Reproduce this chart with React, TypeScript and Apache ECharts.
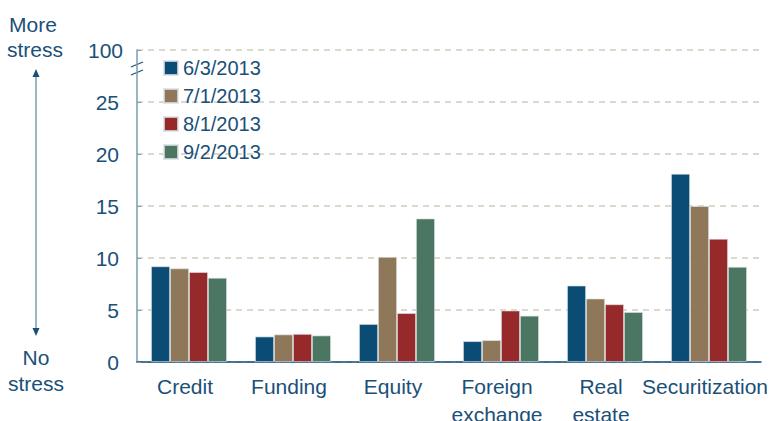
import React, { useEffect, useRef } from "react";
import * as echarts from "echarts";

const categories = ["Credit", "Funding", "Equity", "Foreign\nexchange", "Real\nestate", "Securitization"];
const seriesNames = ["6/3/2013", "7/1/2013", "8/1/2013", "9/2/2013"];
const jun = [9.2, 2.45, 3.65, 2.0, 7.35, 18.1];
const jul = [9.0, 2.65, 10.1, 2.1, 6.1, 15.0];
const aug = [8.65, 2.7, 4.7, 4.95, 5.55, 11.85];
const sep = [8.1, 2.55, 13.8, 4.45, 4.8, 9.15];
const yTicks = [0, 5, 10, 15, 20, 25, 30];
const topLabel = "100";

const colors = ["#0B4C75", "#8F785A", "#962A2B", "#4B7762"];
const textColor = "#1A5078";
const font = "Liberation Sans, Arial, sans-serif";

export default function App() {
  const ref = useRef<HTMLDivElement>(null);
  useEffect(() => {
    const chart = echarts.init(ref.current!, null, { renderer: "svg" });
    const data = [jun, jul, aug, sep];
    chart.setOption({
      animation: false,
      textStyle: { fontFamily: font },
      grid: { left: 137, right: 10, top: 50, bottom: 59, containLabel: false, outerBoundsMode: "none" },
      legend: {
        orient: "vertical",
        left: 158,
        top: 53,
        itemWidth: 14,
        itemHeight: 14,
        itemGap: 8,
        icon: "rect",
        textStyle: { color: textColor, fontSize: 20, fontFamily: font },
        data: seriesNames,
      },
      xAxis: {
        type: "category",
        data: categories,
        axisLine: { lineStyle: { color: "#0B4C75", width: 1.5 } },
        axisTick: { inside: true, length: 4, lineStyle: { color: "#0B4C75" } },
        axisLabel: {
          interval: 0,
          margin: 10,
          formatter: (v: string) => v.split("\n").map((s) => `{a|${s}}`).join("\n"),
          rich: {
            a: { color: textColor, fontSize: 21, lineHeight: 28, fontFamily: font, padding: [0, 8, 0, 0] },
          },
        },
      },
      yAxis: {
        type: "value",
        min: 0,
        max: 30,
        interval: 5,
        axisLine: { show: true, lineStyle: { color: "#7A9DB5", width: 1.5 } },
        axisTick: { show: true, inside: true, length: 4, lineStyle: { color: "#7A9DB5" } },
        axisLabel: {
          margin: 14,
          formatter: (v: number) => (v === yTicks[yTicks.length - 1] ? `{t|${topLabel}}` : `{n|${v}}`),
          rich: {
            t: { color: textColor, fontSize: 21, fontFamily: font },
            n: { color: textColor, fontSize: 21, fontFamily: font, padding: [0, 4, 0, 0] },
          },
        },
        splitLine: { show: true, lineStyle: { color: "#CFCBBE", width: 1.5, type: [6, 5] } },
      },
      series: seriesNames.map((name, i) => ({
        name,
        type: "bar",
        data: data[i],
        barGap: "0%",
        barCategoryGap: "27%",
        itemStyle: { color: colors[i], borderColor: "rgba(220,225,230,0.8)", borderWidth: 0.8 },
      })),
      graphic: [
        { type: "line", shape: { x1: 131, y1: 67, x2: 143, y2: 62 }, style: { stroke: "#1A5078", lineWidth: 1.2 } },
        { type: "line", shape: { x1: 131, y1: 75, x2: 143, y2: 70 }, style: { stroke: "#1A5078", lineWidth: 1.2 } },
        { type: "text", x: 33, y: 24, style: { text: "More", fill: textColor, fontSize: 21, fontFamily: font, align: "center", verticalAlign: "middle" } },
        { type: "text", x: 35, y: 49, style: { text: "stress", fill: textColor, fontSize: 21, fontFamily: font, align: "center", verticalAlign: "middle" } },
        { type: "text", x: 36, y: 357, style: { text: "No", fill: textColor, fontSize: 21, fontFamily: font, align: "center", verticalAlign: "middle" } },
        { type: "text", x: 36, y: 383, style: { text: "stress", fill: textColor, fontSize: 21, fontFamily: font, align: "center", verticalAlign: "middle" } },
        { type: "line", shape: { x1: 36, y1: 74, x2: 36, y2: 331 }, style: { stroke: "#7A9DB5", lineWidth: 1.5 } },
        { type: "polygon", shape: { points: [[36, 69], [32.5, 77], [39.5, 77]] }, style: { fill: "#1A5078" } },
        { type: "polygon", shape: { points: [[36, 336], [32.5, 328], [39.5, 328]] }, style: { fill: "#1A5078" } },
      ],
    });
    return () => chart.dispose();
  }, []);
  return <div ref={ref} style={{ position: "absolute", left: 0, top: 0, width: 771, height: 421 }} />;
}
